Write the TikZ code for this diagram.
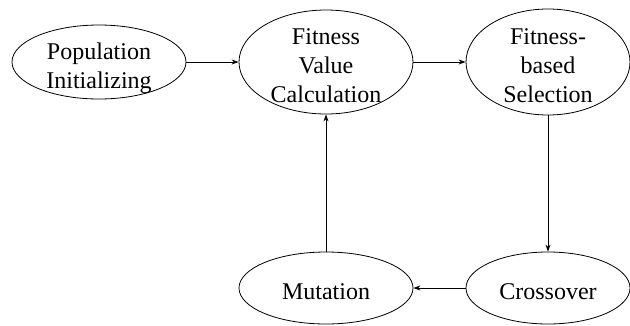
\documentclass[tikz,border=0pt]{standalone}
\usepackage{fontspec}
\setmainfont{DejaVu Serif}
\newfontfamily\tmsfont{Liberation Serif}
\usetikzlibrary{shapes.geometric,arrows.meta}
\newcommand{\lowtext}[1]{\raisebox{-12pt}[0pt][0pt]{\begin{tabular}{@{}c@{}}#1\end{tabular}}}
\begin{document}
\begin{tikzpicture}[x=1pt,y=-1pt,
  stage/.style={ellipse,draw,line width=0.8pt,inner sep=0pt,align=center,
    font=\tmsfont\fontsize{24}{29}\selectfont},
  flow/.style={draw,line width=0.8pt,-{Stealth[length=7pt,width=5pt]}}]
\useasboundingbox (0,0) rectangle (630,325);
\node[stage,minimum width=174pt,minimum height=74pt] (pop) at (99,62) {\lowtext{Population\\Initializing}};
\node[stage,minimum width=174pt,minimum height=104pt] (fvc) at (326,62) {\lowtext{Fitness\\Value\\Calculation}};
\node[stage,minimum width=164pt,minimum height=106pt] (fbs) at (548,62) {\lowtext{Fitness-\\based\\Selection}};
\node[stage,minimum width=174pt,minimum height=72pt] (mut) at (326,288) {\lowtext{Mutation}};
\node[stage,minimum width=164pt,minimum height=72pt] (cro) at (548,288) {\lowtext{Crossover}};
\draw[flow] (pop) -- (fvc);
\draw[flow] (fvc) -- (fbs);
\draw[flow] (fbs) -- (cro);
\draw[flow] (cro) -- (mut);
\draw[flow] (mut) -- (fvc);
\end{tikzpicture}
\end{document}
